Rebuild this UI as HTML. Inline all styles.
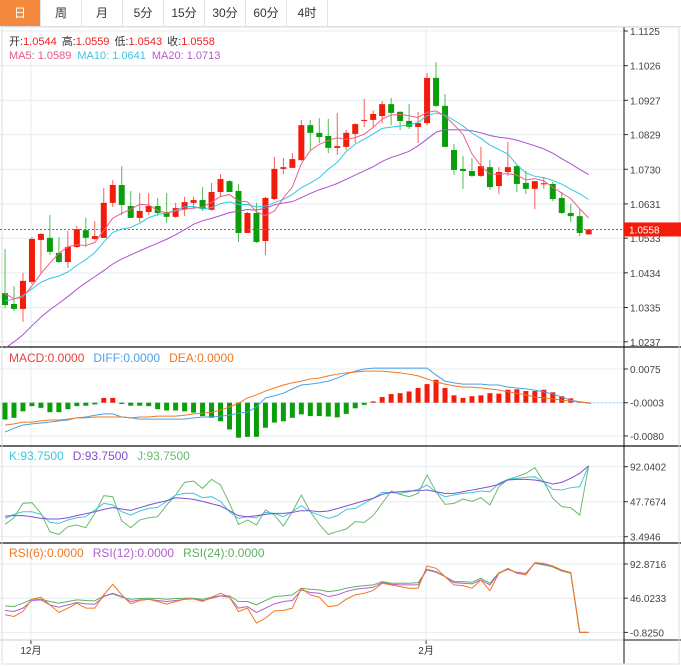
<!DOCTYPE html>
<html><head><meta charset="utf-8"><style>
body{margin:0;width:681px;height:667px;overflow:hidden;background:#fff;font-family:"Liberation Sans","Noto Sans CJK SC",sans-serif}
.tabs{position:absolute;left:0;top:0;height:26px;width:681px;border-bottom:1px solid #dde3e6;display:flex}
.tab{width:40px;border-right:1px solid #dde3e6;text-align:center;line-height:26px;font-size:12px;color:#333}
.tab.on{background:#f2893d;color:#fff}
svg{position:absolute;left:0;top:0}
</style></head><body>
<div class="tabs">
<div class="tab on">日</div>
<div class="tab">周</div>
<div class="tab">月</div>
<div class="tab">5分</div>
<div class="tab">15分</div>
<div class="tab">30分</div>
<div class="tab">60分</div>
<div class="tab">4时</div>
</div>
<svg id="c" width="681" height="667" font-family="Liberation Sans, Noto Sans CJK SC, sans-serif">
<g id="g"></g>
<text x="9" y="45" font-size="11"><tspan fill="#333">开:</tspan><tspan fill="#f02020">1.0544</tspan><tspan fill="#333" dx="5">高:</tspan><tspan fill="#f02020">1.0559</tspan><tspan fill="#333" dx="5">低:</tspan><tspan fill="#f02020">1.0543</tspan><tspan fill="#333" dx="5">收:</tspan><tspan fill="#f02020">1.0558</tspan></text>
<text x="9" y="59" font-size="11"><tspan fill="#e8558a">MA5: 1.0589</tspan><tspan fill="#3ac7e0" dx="6">MA10: 1.0641</tspan><tspan fill="#b45cd0" dx="6">MA20: 1.0713</tspan></text>
<text x="9" y="362" font-size="12"><tspan fill="#e84040">MACD:0.0000</tspan><tspan fill="#4aa0e8" dx="9">DIFF:0.0000</tspan><tspan fill="#f07820" dx="9">DEA:0.0000</tspan></text>
<text x="9" y="460" font-size="12"><tspan fill="#3cc8e0">K:93.7500</tspan><tspan fill="#8050d0" dx="9">D:93.7500</tspan><tspan fill="#6cba6c" dx="9">J:93.7500</tspan></text>
<text x="9" y="557" font-size="12"><tspan fill="#f07820">RSI(6):0.0000</tspan><tspan fill="#b060d0" dx="9">RSI(12):0.0000</tspan><tspan fill="#60b060" dx="9">RSI(24):0.0000</tspan></text>
</svg>
<script>
const priorCloses=[0.998,1.000,1.002,1.005,1.007,1.010,1.012,1.014,1.016,1.020,1.028,1.031,1.034,1.036,1.038,1.040,1.039,1.037,1.0368];
const opens=[1.0376,1.0345,1.0331,1.0408,1.0528,1.0534,1.0491,1.0465,1.0508,1.0556,1.0531,1.0534,1.0634,1.0685,1.0625,1.0591,1.0608,1.0625,1.0608,1.0594,1.0616,1.0634,1.0642,1.0614,1.0665,1.0696,1.0668,1.0548,1.0605,1.0525,1.0645,1.0731,1.0734,1.0756,1.0856,1.0834,1.0825,1.0791,1.0794,1.0831,1.0868,1.0871,1.0882,1.0916,1.0894,1.0868,1.0851,1.0862,1.0991,1.0911,1.0785,1.0731,1.0725,1.0711,1.0736,1.0682,1.0722,1.0739,1.0691,1.0674,1.0687,1.0688,1.0648,1.0605,1.0596,1.0544];
const highs=[1.0502,1.0396,1.0434,1.0536,1.0548,1.0599,1.0536,1.0554,1.0568,1.0591,1.0582,1.0676,1.0699,1.0739,1.0668,1.0662,1.0662,1.0648,1.0662,1.0634,1.0651,1.0651,1.0679,1.0691,1.0716,1.0699,1.0688,1.0608,1.0634,1.0651,1.0765,1.0762,1.0776,1.0871,1.0871,1.0876,1.0874,1.0891,1.0842,1.0862,1.0931,1.0899,1.0925,1.0934,1.0896,1.0916,1.0894,1.1005,1.1036,1.0945,1.0802,1.0768,1.0762,1.0794,1.0756,1.0736,1.0808,1.0742,1.0725,1.0696,1.0705,1.0694,1.0665,1.0631,1.0616,1.0559];
const lows=[1.0334,1.0325,1.0294,1.0402,1.0434,1.0485,1.0462,1.0448,1.0505,1.0508,1.0528,1.0534,1.0622,1.0599,1.0591,1.0579,1.0599,1.0596,1.0576,1.0591,1.0596,1.0616,1.0611,1.0611,1.0651,1.0665,1.0522,1.0548,1.0519,1.0485,1.0642,1.0716,1.0734,1.0754,1.0785,1.0805,1.0776,1.0771,1.0785,1.0805,1.0851,1.0851,1.0862,1.0856,1.0842,1.0845,1.0805,1.0856,1.0908,1.0794,1.0714,1.0674,1.0708,1.0708,1.0671,1.0659,1.0711,1.0665,1.0659,1.0616,1.0674,1.0639,1.0602,1.0579,1.0539,1.0543];
const closes=[1.0342,1.0331,1.0411,1.0531,1.0545,1.0494,1.0465,1.0508,1.0559,1.0534,1.0539,1.0634,1.0685,1.0628,1.0591,1.0611,1.0625,1.0605,1.0594,1.0619,1.0636,1.0642,1.0616,1.0665,1.0702,1.0665,1.0548,1.0605,1.0522,1.0648,1.0731,1.0736,1.0759,1.0856,1.0834,1.0822,1.0791,1.0796,1.0834,1.0859,1.0871,1.0888,1.0916,1.0891,1.0868,1.0851,1.0862,1.0991,1.0911,1.0794,1.0728,1.0725,1.0711,1.0739,1.0679,1.0722,1.0736,1.0688,1.0674,1.0696,1.0690,1.0645,1.0605,1.0596,1.0548,1.0558];
const macdHist=[-0.0039,-0.0035,-0.0020,-0.0008,-0.0012,-0.0022,-0.0022,-0.0015,-0.0008,-0.0007,-0.0004,0.0011,0.0011,-0.0003,-0.0007,-0.0007,-0.0008,-0.0015,-0.0018,-0.0018,-0.0020,-0.0023,-0.0031,-0.0035,-0.0043,-0.0062,-0.0081,-0.0079,-0.0079,-0.0058,-0.0046,-0.0043,-0.0035,-0.0027,-0.0031,-0.0031,-0.0032,-0.0034,-0.0026,-0.0013,-0.0005,0.0003,0.0013,0.0020,0.0022,0.0026,0.0034,0.0043,0.0053,0.0034,0.0017,0.0011,0.0015,0.0017,0.0022,0.0021,0.0030,0.0031,0.0027,0.0027,0.0030,0.0024,0.0015,0.0010,0.0003,0.0000];
const diffVals=[-0.0071,-0.0062,-0.0055,-0.0052,-0.0050,-0.0048,-0.0045,-0.0043,-0.0038,-0.0036,-0.0032,-0.0029,-0.0029,-0.0036,-0.0038,-0.0041,-0.0041,-0.0041,-0.0041,-0.0041,-0.0041,-0.0038,-0.0036,-0.0036,-0.0034,-0.0032,-0.0027,-0.0025,-0.0013,0.0008,0.0013,0.0019,0.0029,0.0038,0.0040,0.0043,0.0047,0.0054,0.0063,0.0070,0.0075,0.0077,0.0077,0.0077,0.0077,0.0077,0.0077,0.0077,0.0061,0.0047,0.0043,0.0040,0.0040,0.0040,0.0038,0.0038,0.0033,0.0031,0.0029,0.0026,0.0022,0.0017,0.0010,0.0003,-0.0001,-0.0003];
const deaVals=[-0.0055,-0.0052,-0.0048,-0.0048,-0.0045,-0.0043,-0.0043,-0.0041,-0.0038,-0.0038,-0.0036,-0.0036,-0.0036,-0.0036,-0.0038,-0.0036,-0.0036,-0.0034,-0.0034,-0.0034,-0.0032,-0.0029,-0.0027,-0.0025,-0.0020,-0.0013,-0.0004,0.0008,0.0015,0.0024,0.0031,0.0038,0.0043,0.0047,0.0052,0.0054,0.0059,0.0063,0.0066,0.0068,0.0070,0.0070,0.0070,0.0068,0.0066,0.0063,0.0059,0.0052,0.0045,0.0040,0.0036,0.0033,0.0033,0.0031,0.0029,0.0026,0.0022,0.0019,0.0015,0.0010,0.0008,0.0006,0.0003,0.0001,-0.0001,-0.0004];
const kVals=[26.7,31.7,35.1,35.1,31.7,21.6,20.3,24.6,27.5,28.8,37.2,45.7,43.6,35.1,30.9,36.0,39.3,40.6,48.2,56.2,58.3,58.3,52.8,54.1,48.2,35.1,26.7,28.8,27.5,34.3,33.0,28.8,35.1,42.7,35.1,30.9,26.7,30.0,38.1,39.3,45.7,52.0,59.6,59.2,58.3,60.4,63.4,68.9,59.6,54.1,56.2,58.3,59.2,61.3,60.4,71.0,76.0,77.3,78.5,79.4,72.2,63.4,62.5,65.5,66.8,93.3];
const dVals=[29.6,30.1,30.1,28.8,26.7,25.9,25.9,27.5,30.1,32.6,35.1,38.1,40.2,38.5,36.8,40.2,43.6,46.5,49.0,52.8,52.0,50.7,48.2,45.2,42.3,36.4,30.1,28.8,30.1,31.7,33.0,33.0,34.3,36.4,36.4,35.1,36.0,39.0,42.3,45.7,49.0,52.0,57.0,59.6,60.4,61.3,61.7,62.5,60.4,58.3,58.3,60.4,62.5,64.6,66.8,69.7,75.2,76.0,76.0,75.2,73.1,70.1,72.2,77.3,83.6,93.3];
const jVals=[19.1,27.5,45.7,46.5,33.0,9.8,6.4,16.2,18.3,14.9,33.0,55.4,54.1,23.3,14.9,24.6,27.5,28.8,43.6,56.2,72.2,73.9,64.6,76.0,68.9,45.7,19.1,24.6,18.3,37.2,30.9,17.0,35.1,56.2,35.1,19.1,6.4,10.0,13.2,22.5,21.6,30.1,45.7,61.3,57.0,54.1,58.3,81.5,60.4,44.4,45.7,51.1,48.2,52.8,43.6,66.8,76.0,79.4,83.6,90.8,73.1,52.0,41.5,40.2,30.9,93.3];
const rsi6=[23.3,21.0,27.8,44.6,47.4,36.9,26.5,32.4,39.2,32.4,32.4,50.6,65.1,50.6,38.3,42.8,44.6,41.5,37.8,41.5,44.6,45.1,41.5,47.4,52.8,47.4,27.8,32.4,11.9,18.7,28.7,29.2,32.4,59.7,50.6,47.4,34.6,36.0,44.6,50.6,52.8,56.5,66.5,64.2,61.9,59.7,59.7,90.1,87.0,75.6,64.2,63.3,59.7,71.0,56.5,80.1,87.0,80.1,77.9,94.7,93.8,90.1,84.7,81.0,-0.8,-0.8];
const rsi12=[29.2,27.8,32.4,42.8,43.7,36.9,33.7,36.9,40.1,38.3,37.8,48.3,52.8,48.3,41.5,43.7,44.6,42.8,41.5,42.8,44.6,45.1,42.8,46.0,49.2,47.4,32.4,34.6,26.5,32.4,38.3,41.5,42.8,57.4,53.8,52.8,48.3,50.6,55.1,58.3,59.7,61.0,67.4,65.1,64.2,64.2,64.2,85.6,82.4,75.6,67.4,66.5,65.6,71.0,64.2,80.1,85.6,81.0,80.1,93.8,92.9,90.1,83.8,81.0,-0.8,-0.8];
const rsi24=[35.5,34.6,39.2,44.6,44.6,41.5,39.2,41.5,43.7,42.8,42.4,49.2,51.9,47.4,44.6,45.6,46.0,45.6,44.6,45.6,46.0,46.0,44.6,47.4,49.2,49.2,41.5,41.5,36.9,42.8,48.3,49.2,50.6,59.7,58.3,57.4,55.1,56.5,59.7,61.9,63.3,64.2,68.8,66.5,66.5,66.5,67.4,84.7,81.5,75.6,68.8,68.8,67.9,73.3,66.5,81.0,85.6,81.5,80.1,93.8,91.5,88.7,83.3,80.1,-0.8,-0.8];
const priceTicks=["1.1125","1.1026","1.0927","1.0829","1.0730","1.0631","1.0533","1.0434","1.0335","1.0237"];
const macdTicks=["0.0075","-0.0003","-0.0080"];
const kdjTicks=["92.0402","47.7674","3.4946"];
const rsiTicks=["92.8716","46.0233","-0.8250"];
const monthLabels=["12月","2月"];
const monthIdx=[3,47];
const lastPrice=1.0558;

const NS="http://www.w3.org/2000/svg",G=document.getElementById('g');
function mk(t,a,p){const e=document.createElementNS(NS,t);for(const k in a)e.setAttribute(k,a[k]);(p||G).appendChild(e);return e;}
const xS=i=>5+i*8.98;
const yP=p=>31+(1.1125-p)*3500;
const yM=v=>369+(0.0075-v)*4320;
const yK=v=>466.7+(92.0402-v)*0.7906;
const yR=v=>564+(92.8716-v)*0.730;
const R="#f31b0a",Gn="#0a9e0a";
function grid(y){const l=mk('line',{x1:0,x2:624,y1:y,y2:y,stroke:'#e3edf2','stroke-width':1});}
function tick(y,label,nm){mk('line',{x1:624,x2:628,y1:y,y2:y,stroke:'#333'});const t=mk('text',{x:630,y:y+4,'font-size':10,fill:'#444'});t.textContent=label;}
priceTicks.forEach(s=>{grid(yP(+s));tick(yP(+s),s,'price-tick-label');});
macdTicks.forEach(s=>{grid(yM(+s));tick(yM(+s),s,'macd-tick-label');});
kdjTicks.forEach(s=>{grid(yK(+s));tick(yK(+s),s,'kdj-tick-label');});
rsiTicks.forEach(s=>{grid(yR(+s));tick(yR(+s),s,'rsi-tick-label');});
monthIdx.forEach((ix,k)=>{const x=xS(ix)-1;mk('line',{x1:x,x2:x,y1:27,y2:640,stroke:'#e3edf2'});mk('line',{x1:x,x2:x,y1:640,y2:644,stroke:'#333'});const t=mk('text',{x:x,y:654,'font-size':10,fill:'#333','text-anchor':'middle'});t.textContent=monthLabels[k];});
[347,446,543].forEach(y=>mk('line',{x1:0,x2:681,y1:y,y2:y,stroke:'#111','stroke-width':1.3}));
mk('line',{x1:0,x2:624,y1:640,y2:640,stroke:'#ccc'});
mk('line',{x1:624,x2:681,y1:640,y2:640,stroke:'#111'});
mk('line',{x1:624,x2:624,y1:27,y2:664,stroke:'#111'});
mk('rect',{x:2,y:27,width:677,height:637,fill:'none',stroke:'#ddd'});
for(let i=0;i<opens.length;i++){const up=closes[i]>=opens[i],c=up?R:Gn,x=xS(i);
 const w=mk('line',{x1:x,x2:x,y1:yP(highs[i]),y2:yP(lows[i]),stroke:c,'stroke-width':1,'stroke-opacity':0.7});
 
 const t=yP(Math.max(opens[i],closes[i])),b=yP(Math.min(opens[i],closes[i]));
 const r=mk('rect',{x:x-3,y:t,width:6,height:Math.max(1,b-t),fill:c});
 }
const all=priorCloses.concat(closes);
function ma(n){return closes.map((_,i)=>{let s=0;for(let k=0;k<n;k++)s+=all[i+priorCloses.length-k];return s/n;});}
function line(arr,ys,col,nm,w){const p=mk('polyline',{points:arr.map((v,i)=>xS(i)+','+ys(v)).join(' '),fill:'none',stroke:col,'stroke-width':w||1});}
line(ma(20),yP,'#b04fd0','ma20-line');line(ma(10),yP,'#30c8e0','ma10-line');line(ma(5),yP,'#f0608a','ma5-line');
const ly=yP(lastPrice);
mk('line',{x1:0,x2:624,y1:ly,y2:ly,stroke:'#f33','stroke-dasharray':'2,2'});
const lb=mk('rect',{x:624,y:ly-7,width:57,height:14,fill:'#f31b0a'});
const lt=mk('text',{x:629,y:ly+4,'font-size':10,fill:'#fff'});lt.textContent=lastPrice.toFixed(4);
const z=yM(-0.0003);
mk('line',{x1:xS(macdHist.length-1),x2:624,y1:z,y2:z,stroke:'#a8d4ee','stroke-dasharray':'2,2'});
macdHist.forEach((v,i)=>{const y=yM(v-0.0003);const r=mk('rect',{x:xS(i)-2.5,y:Math.min(y,z),width:5,height:Math.max(0.8,Math.abs(y-z)),fill:v>=0?R:Gn});});
line(diffVals,yM,'#4aa0e8','diff-line');line(deaVals,yM,'#f07820','dea-line');
line(jVals,yK,'#6cba6c','j-line');line(kVals,yK,'#3cc8e0','k-line');line(dVals,yK,'#8050d0','d-line');
line(rsi24,yR,'#60b060','rsi24-line');line(rsi12,yR,'#b060d0','rsi12-line');line(rsi6,yR,'#f07820','rsi6-line');
</script>
</body></html>
